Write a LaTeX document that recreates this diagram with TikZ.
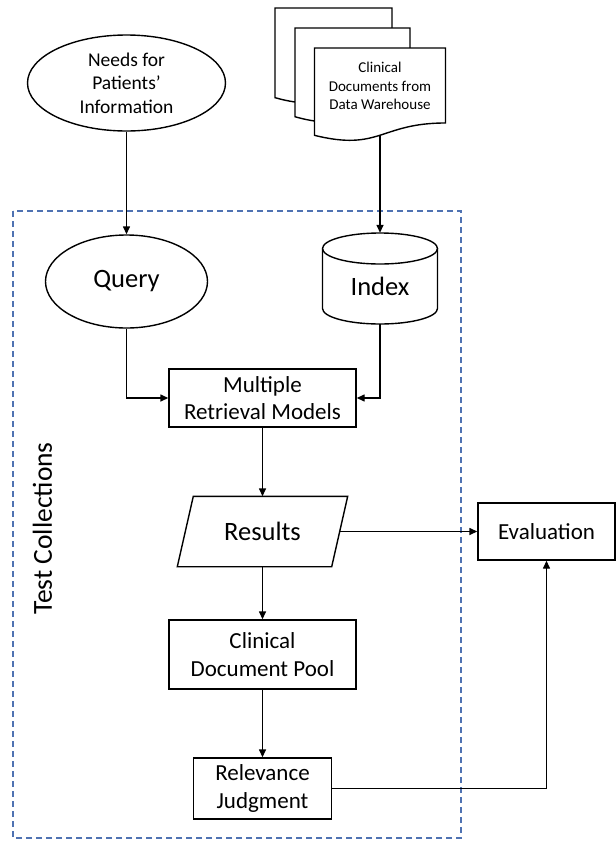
\documentclass[tikz,border=0pt]{standalone}
\usepackage{fontspec}
\setmainfont{Carlito}
\usetikzlibrary{arrows.meta,shapes.geometric}
\definecolor{dashblue}{RGB}{79,114,178}
\newcommand\docpage[4]{\draw[ln, fill=white] (#1,#2) -- ({#1+#3},#2) -- ({#1+#3},{#2+0.802*#4}) .. controls ({#1+0.5*#3},{#2+0.802*#4}) and ({#1+0.5*#3},{#2+1.1075*#4}) .. (#1,{#2+0.934*#4}) -- cycle;}
\begin{document}
\begin{tikzpicture}[x=1pt,y=-1pt,
  every node/.style={inner sep=0pt, text=black},
  ln/.style={draw=black, line width=1.4pt},
  conn/.style={ln, -{Triangle[length=8pt,width=7pt]}},
  boxstyle/.style={ln, rectangle, align=center, font=\fontsize{23}{27.5}\selectfont},
  bigtext/.style={font=\fontsize{26.5}{30}\selectfont},
]
\useasboundingbox (0,0) rectangle (616,841);

% dashed frame
\draw[draw=dashblue, line width=1.4pt, dash pattern=on 6pt off 4pt] (13,211) rectangle (461,838);
\node[rotate=90, font=\fontsize{27.5}{30}\selectfont] (tc) at (42.5,528.5) {Test Collections};

% needs
\node[ln, ellipse, minimum width=198, minimum height=96, align=center, font=\fontsize{19.5}{23.5}\selectfont] (needs) at (126.5,83) {Needs for\\Patients’\\Information};

% document stack
\docpage{275}{8}{117}{96}
\docpage{295}{28}{115}{95}
\docpage{314.5}{48}{131}{93.5}
\node[font=\fontsize{15}{18.5}\selectfont, align=center] (docs) at (380,86) {Clinical\\Documents from\\Data Warehouse};
\coordinate (docbot) at (380,135);

% query
\node[ln, ellipse, minimum width=162, minimum height=93, bigtext] (query) at (126.5,281.5) {Query};

% index cylinder
\node[minimum width=115, minimum height=91] (idx) at (380,278.5) {};
\draw[ln] (380,248.5) ellipse[x radius=57.5, y radius=15.5];
\draw[ln] (322.5,248.5) -- (322.5,308.5) arc[start angle=180, end angle=0, x radius=57.5, y radius=15.5] -- (437.5,248.5);
\node[bigtext] (idxlabel) at (380,286) {Index};

% boxes
\node[boxstyle, minimum width=187, minimum height=58] (mrm) at (262.5,398) {Multiple\\Retrieval Models};
\node[minimum width=154, minimum height=70, bigtext] (res) at (262.5,531.5) {Results};
\draw[ln] ([xshift=-8pt]res.south west) -- ([xshift=8pt]res.north west) -- ([xshift=8pt]res.north east) -- ([xshift=-8pt]res.south east) -- cycle;
\node[boxstyle, minimum width=187, minimum height=69] (pool) at (262.5,654.5) {Clinical\\Document Pool};
\node[boxstyle, minimum width=138, minimum height=61] (rel) at (262.5,788.5) {Relevance\\Judgment};
\node[boxstyle, minimum width=137, minimum height=57] (eval) at (546.5,531.5) {Evaluation};

% connectors
\draw[conn] (needs.south) -- (query.north);
\draw[conn] (docbot) -- (idx.north);
\draw[conn] (query.south) |- (mrm.west);
\draw[conn] (idx.south) |- (mrm.east);
\draw[conn] (mrm.south) -- (res.north);
\draw[conn] (res.east) -- (eval.west);
\draw[conn] (res.south) -- (pool.north);
\draw[conn] (pool.south) -- (rel.north);
\draw[conn] (rel.east) -| (eval.south);
\end{tikzpicture}
\end{document}
